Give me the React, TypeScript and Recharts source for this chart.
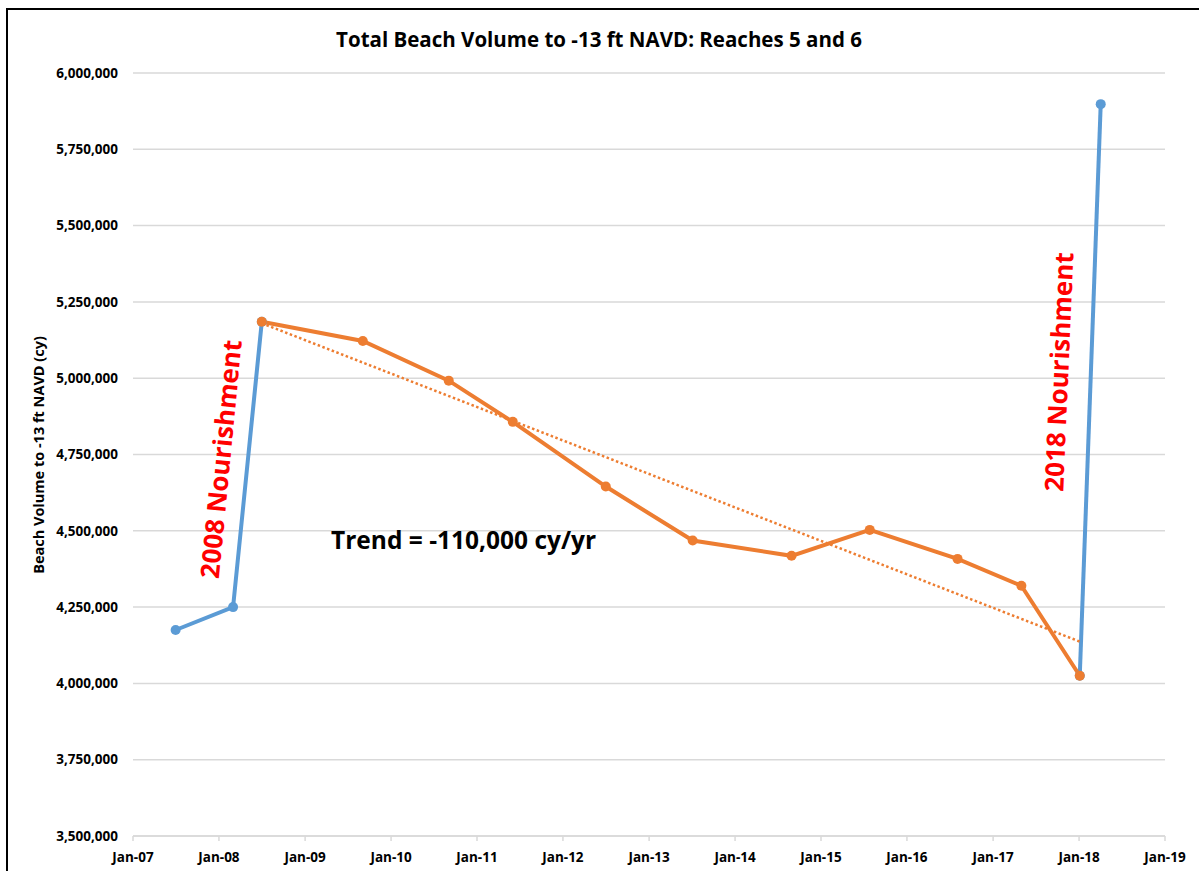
import { CartesianGrid, Line, LineChart, XAxis, YAxis } from "recharts";

const W = 1199;
const H = 871;
const BLUE = "#5b9bd5";
const ORANGE = "#ed7d31";
const FONT = "'Open Sans', Lato, sans-serif";

// survey dates and volumes (cy)
const preNourishDates = ["2007-07-01", "2008-03-01", "2008-07-01"];
const preNourishVolumes = [4175000, 4250000, 5185000];

const postNourishDates = [
  "2008-07-01",
  "2009-09-03",
  "2010-09-03",
  "2011-06-02",
  "2012-07-01",
  "2013-07-05",
  "2014-08-29",
  "2015-07-27",
  "2016-08-03",
  "2017-05-01",
  "2018-01-04",
];
const postNourishVolumes = [
  5185000, 5122000, 4992000, 4857000, 4645000, 4468000, 4418000, 4503000,
  4408000, 4320000, 4025000,
];

const nourish2018Dates = ["2018-01-04", "2018-04-03"];
const nourish2018Volumes = [4025000, 5898000];

const trendDates = ["2008-07-01", "2018-01-04"];
const trendVolumes = [5180000, 4137000];

const tickYears = [2007, 2008, 2009, 2010, 2011, 2012, 2013, 2014, 2015, 2016, 2017, 2018, 2019];
const volumeTicks = [3500000, 3750000, 4000000, 4250000, 4500000, 4750000, 5000000, 5250000, 5500000, 5750000, 6000000];

const toRows = (dates: string[], volumes: number[]) =>
  dates.map((d, i) => ({ date: Date.parse(d), volume: volumes[i] }));

const preRows = toRows(preNourishDates, preNourishVolumes);
const postRows = toRows(postNourishDates, postNourishVolumes);
const n2018Rows = toRows(nourish2018Dates, nourish2018Volumes);
const trendRows = toRows(trendDates, trendVolumes);

const xTicks = tickYears.map((y) => Date.UTC(y, 0, 1));

const formatDate = (t: number) =>
  "Jan-" + String(new Date(t).getUTCFullYear() % 100).padStart(2, "0");

const tickStyle = { fill: "#000", fontSize: 13.5, fontWeight: 700, fontFamily: FONT };

export default function App() {
  return (
    <div
      style={{
        position: "absolute",
        left: 0,
        top: 0,
        width: W,
        height: H,
        background: "#fff",
        overflow: "hidden",
      }}
    >
      <div
        style={{
          position: "absolute",
          left: 6,
          top: 8,
          width: W + 20,
          height: H + 20,
          border: "2px solid #000",
        }}
      />
      <LineChart
        width={W}
        height={H}
        margin={{ top: 73, right: 34, bottom: 5, left: 0 }}
        style={{ position: "absolute", left: 0, top: 0 }}
      >
        <CartesianGrid vertical={false} stroke="#d9d9d9" strokeWidth={1.5} />
        <XAxis
          type="number"
          dataKey="date"
          domain={[xTicks[0], xTicks[xTicks.length - 1]]}
          ticks={xTicks}
          tickFormatter={formatDate}
          allowDataOverflow
          height={30}
          axisLine={{ stroke: "#d9d9d9", strokeWidth: 1.5 }}
          tickLine={{ stroke: "#d9d9d9", strokeWidth: 1.5 }}
          tickSize={5}
          tickMargin={11}
          tick={tickStyle}
        />
        <YAxis
          type="number"
          dataKey="volume"
          domain={[3500000, 6000000]}
          ticks={volumeTicks}
          tickFormatter={(v: number) => v.toLocaleString("en-US")}
          width={133}
          axisLine={false}
          tickLine={false}
          tickSize={0}
          tickMargin={15}
          tick={tickStyle}
        />
        <Line
          data={preRows}
          dataKey="volume"
          type="linear"
          stroke={BLUE}
          strokeWidth={4}
          dot={{ r: 5, fill: BLUE, stroke: BLUE, strokeWidth: 0 }}
          isAnimationActive={false}
        />
        <Line
          data={n2018Rows}
          dataKey="volume"
          type="linear"
          stroke={BLUE}
          strokeWidth={4}
          dot={{ r: 5, fill: BLUE, stroke: BLUE, strokeWidth: 0 }}
          isAnimationActive={false}
        />
        <Line
          data={postRows}
          dataKey="volume"
          type="linear"
          stroke={ORANGE}
          strokeWidth={4}
          dot={{ r: 5, fill: ORANGE, stroke: ORANGE, strokeWidth: 0 }}
          isAnimationActive={false}
        />
        <Line
          data={trendRows}
          dataKey="volume"
          type="linear"
          stroke={ORANGE}
          strokeWidth={2.5}
          strokeDasharray="2.5 2.5"
          dot={false}
          isAnimationActive={false}
        />
      </LineChart>
      <svg
        width={W}
        height={H}
        style={{ position: "absolute", left: 0, top: 0, pointerEvents: "none" }}
        fontFamily={FONT}
        fontWeight={700}
      >
        <text x={599} y={47} textAnchor="middle" fontSize={20.5} fill="#000">
          Total Beach Volume to -13 ft NAVD: Reaches 5 and 6
        </text>
        <text
          transform="translate(44 455) rotate(-90)"
          textAnchor="middle"
          fontSize={14.5}
          fill="#000"
        >
          Beach Volume to -13 ft NAVD (cy)
        </text>
        <text
          transform="translate(221 459) rotate(-84.5)"
          textAnchor="middle"
          dy="0.36em"
          fontSize={26}
          fill="#ff0000"
        >
          2008 Nourishment
        </text>
        <text
          transform="translate(1059 372) rotate(-87.5)"
          textAnchor="middle"
          dy="0.36em"
          fontSize={26}
          fill="#ff0000"
        >
          2018 Nourishment
        </text>
        <text x={331} y={549} fontSize={24.5} fill="#000">
          Trend = -110,000 cy/yr
        </text>
      </svg>
    </div>
  );
}
